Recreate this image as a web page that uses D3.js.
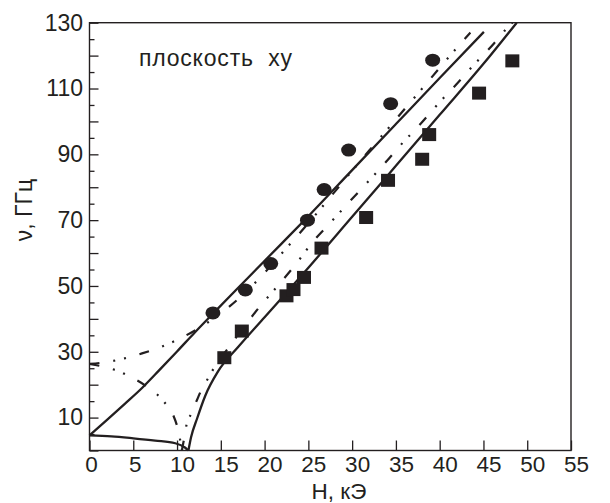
<!DOCTYPE html>
<html>
<head>
<meta charset="utf-8">
<script src="https://cdn.jsdelivr.net/npm/d3@7"></script>
<style>
	body { margin: 0; background: #fff; }
	text { font-family: "Liberation Sans", Arial, sans-serif; fill: #231f20; }
</style>
</head>
<body>
<script>
// points, [H (kOe), nu (GHz)]
const upperSolid = [[0, 4.6], [2, 9.3], [4, 14.1], [6, 19], [8, 24.5], [10, 30.1], [12, 35.8], [14.1, 41.6],
	[18, 52.2], [21.8, 62.5], [25, 71.2], [30, 85.2], [35, 99.2], [40, 113.2], [45.05, 127.2]];
const lowerSolidLeft = [[0, 4.6], [2.5, 4.3], [5, 3.7], [7.5, 3.0], [9.8, 2.2], [10.9, 0.9], [11.3, 0]];
const lowerSolidRight = [[11.3, 0], [11.6, 4], [12.3, 9.8], [13.2, 16.5], [14.7, 24.1], [17, 31.5], [20, 40.5],
	[24.5, 54], [30, 71], [35, 86.5], [40, 102], [45, 117.5], [48.8, 130]];
const upperDashDot = [[0, 26.3], [2, 26.9], [4, 28], [6, 29.5], [8, 31.3], [10, 33.6], [12, 36.4], [14, 39.8],
	[16, 43.8], [18, 48.5], [20, 54], [22, 60], [24, 66], [26, 72.2], [28, 78.6], [30, 85], [32, 91.3],
	[34, 97.5], [36, 103.8], [38, 110], [40, 116.3], [42, 122.5], [43.5, 127]];
const lowerDashDotLeft = [[0, 26.3], [2, 25.2], [3.1, 24.3], [4.3, 22.9], [6.35, 19.8], [8.26, 15.6], [9.0, 13.1],
	[9.6, 10.5], [10.0, 7.5], [10.3, 4], [10.55, 0]];
const lowerDashDotRight = [[10.55, 0], [10.8, 3.5], [11.1, 8], [11.6, 11.1], [12.3, 15.5], [12.8, 18.5], [13.7, 22.6],
	[14.2, 25], [16, 31.7], [18, 38.8], [19.5, 43.9], [21, 48.5], [23.5, 56.4], [25.6, 63.7], [27.3, 68.6],
	[29.8, 75.9], [31.4, 80.5], [33.9, 87.8], [35.5, 92.7], [38.0, 99.8], [39.5, 104.4], [42.1, 111.8],
	[43.7, 116.6], [46.2, 123.7], [47.7, 128.4], [48.3, 130]];

const circleH = [14.1, 17.8, 20.7, 24.9, 26.8, 29.6, 34.4, 39.2];
const circleNu = [41.8, 48.8, 56.8, 70.0, 79.3, 91.3, 105.4, 118.6];
const squareH = [15.4, 17.4, 22.5, 23.3, 24.5, 26.5, 31.6, 34.1, 38.0, 38.8, 44.5, 48.3];
const squareNu = [28.2, 36.3, 47.0, 48.9, 52.6, 61.5, 70.8, 82.1, 88.5, 96.0, 108.6, 118.4];

const xTicks = d3.range(0, 56, 5);
const yTicks = d3.range(0, 131, 5);
const yLabels = [10, 30, 50, 70, 90, 110, 130];

const ink = "#231f20";
const width = 610, height = 503;

const svg = d3.select("body").append("svg")
	.attr("width", width)
	.attr("height", height);

const x = d3.scaleLinear().domain([0, 55]).range([89.5, 571]);
const y = d3.scaleLinear().domain([0, 130]).range([450.5, 22.7]);

// axes, ticks pointing inward
const xAxis = svg.append("g")
	.attr("transform", "translate(0," + y(0) + ")")
	.call(d3.axisBottom(x).tickValues(xTicks).tickSize(-10).tickPadding(6));
xAxis.selectAll("text")
	.attr("font-size", 22.5)
	.attr("dx", d => d >= 10 ? 5 : 1.5);

const yAxis = svg.append("g")
	.attr("transform", "translate(" + x(0) + ",0)")
	.call(d3.axisLeft(y).tickValues(yTicks).tickSize(-5).tickPadding(6.5)
		.tickFormat(d => yLabels.includes(d) ? d : ""));
yAxis.selectAll("line").attr("x2", d => d % 10 === 0 ? 9 : 5);
yAxis.selectAll("text").attr("font-size", 23);

svg.selectAll(".domain").remove();
svg.selectAll(".tick line").attr("stroke", ink).attr("stroke-width", 1.3);
svg.selectAll(".tick text").attr("fill", ink).attr("font-family", "Liberation Sans, Arial, sans-serif");

svg.append("rect")
	.attr("x", x(0)).attr("y", y(130))
	.attr("width", x(55) - x(0)).attr("height", y(0) - y(130))
	.attr("fill", "none").attr("stroke", ink).attr("stroke-width", 1.4);

// curves
const line = d3.line()
	.x(d => x(d[0]))
	.y(d => y(d[1]))
	.curve(d3.curveMonotoneX);

[upperSolid, lowerSolidLeft, lowerSolidRight].forEach(pts => {
	svg.append("path")
		.attr("d", line(pts))
		.attr("fill", "none")
		.attr("stroke", ink)
		.attr("stroke-width", 2.3);
});

[upperDashDot, lowerDashDotLeft, lowerDashDotRight].forEach(pts => {
	svg.append("path")
		.attr("d", line(pts))
		.attr("fill", "none")
		.attr("stroke", ink)
		.attr("stroke-width", 2.2)
		.attr("stroke-dasharray", "10,14,2,9,2,14");
});

// measured points
svg.selectAll(".dot")
	.data(d3.range(circleH.length))
	.enter().append("ellipse")
	.attr("class", "dot")
	.attr("cx", i => x(circleH[i]))
	.attr("cy", i => y(circleNu[i]))
	.attr("rx", 7.5)
	.attr("ry", 6.5)
	.attr("fill", ink);

svg.selectAll(".sq")
	.data(d3.range(squareH.length))
	.enter().append("rect")
	.attr("class", "sq")
	.attr("x", i => x(squareH[i]) - 7)
	.attr("y", i => y(squareNu[i]) - 6.5)
	.attr("width", 14)
	.attr("height", 13)
	.attr("fill", ink);

// labels
svg.append("text")
	.attr("x", 139)
	.attr("y", 66)
	.attr("font-size", 23)
	.attr("letter-spacing", 0.8)
	.style("white-space", "pre")
	.text("плоскость  xy");

svg.append("text")
	.attr("x", 339)
	.attr("y", 499)
	.attr("text-anchor", "middle")
	.attr("font-size", 22.5)
	.text("H, кЭ");

svg.append("text")
	.attr("transform", "translate(32,210) rotate(-90)")
	.attr("text-anchor", "middle")
	.attr("font-size", 23)
	.text("ν, ГГц");
</script>
</body>
</html>
